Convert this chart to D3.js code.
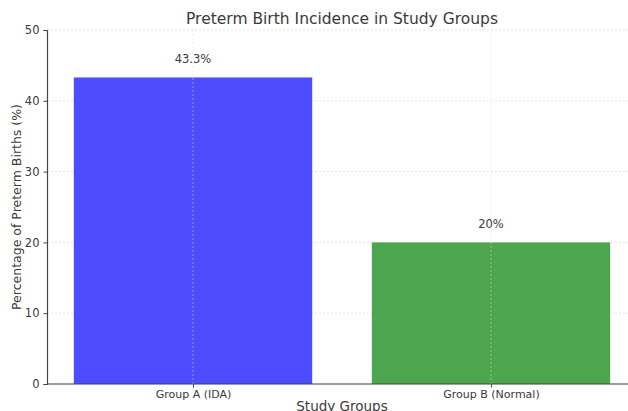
<!DOCTYPE html>
<html>
<head>
<meta charset="utf-8">
<script src="https://cdn.jsdelivr.net/npm/d3@7"></script>
<style>
body { margin: 0; background: #fff; }
text { font-family: "DejaVu Sans", sans-serif; fill: #3a3a3a; }
</style>
</head>
<body>
<svg id="chart" width="628" height="411"></svg>
<script>
// data
var groups = ["Group A (IDA)", "Group B (Normal)"];
var rates = [43.3, 20];
var labels = ["43.3%", "20%"];
var colors = ["#4d4dff", "#4da64d"];
var yTicks = [0, 10, 20, 30, 40, 50];

var svg = d3.select("#chart");
var pLeft = 47, pRight = 637, pTop = 30, pBottom = 384;

// matplotlib-like x: bars at 0 and 1, width 0.8, xlim -0.49..1.49
var x = d3.scaleLinear().domain([-0.49, 1.49]).range([pLeft, pRight]);
var y = d3.scaleLinear().domain([0, 50]).range([pBottom, pTop]);

// grid
svg.append("g").selectAll("line.hg").data(yTicks).enter()
	.append("line")
	.attr("x1", pLeft).attr("x2", pRight)
	.attr("y1", d => y(d)).attr("y2", d => y(d))
	.style("stroke", "#ddd").style("stroke-width", 0.8)
	.style("stroke-dasharray", "2,2");

// bars
svg.append("g").selectAll("rect").data(rates).enter()
	.append("rect")
	.attr("x", (d, i) => x(i - 0.4))
	.attr("width", (d, i) => x(i + 0.4) - x(i - 0.4))
	.attr("y", d => y(d))
	.attr("height", d => pBottom - y(d))
	.style("fill", (d, i) => colors[i]);

// vertical grid, drawn over the bars
svg.append("g").selectAll("line.vg").data(groups).enter()
	.append("line")
	.attr("x1", (d, i) => x(i)).attr("x2", (d, i) => x(i))
	.attr("y1", pTop).attr("y2", pBottom)
	.style("stroke", "#ddd").style("stroke-width", 0.8).style("opacity", 0.6)
	.style("stroke-dasharray", "2,2");

// value labels
svg.append("g").selectAll("text").data(labels).enter()
	.append("text")
	.attr("x", (d, i) => x(i))
	.attr("y", (d, i) => y(rates[i]) - 14)
	.attr("text-anchor", "middle")
	.style("font-size", "11.5px")
	.text(d => d);

// axes
var yAxis = d3.axisLeft(y).tickValues(yTicks).tickSize(3.5).tickPadding(4);
var gy = svg.append("g").attr("transform", "translate(" + pLeft + ",0)").call(yAxis);
gy.select(".domain").style("stroke", "#444").style("stroke-width", 1.2);
gy.selectAll(".tick line").style("stroke", "#444");
gy.selectAll("text").style("font-size", "11.5px").style("font-family", "DejaVu Sans").style("fill", "#3a3a3a");

var xAxis = d3.axisBottom(x).tickValues([0, 1]).tickFormat((d, i) => groups[i]).tickSize(3.5).tickPadding(3);
var gx = svg.append("g").attr("transform", "translate(0," + pBottom + ")").call(xAxis);
gx.select(".domain").style("stroke", "#444").style("stroke-width", 1.2).attr("d", "M" + pLeft + ",0H" + pRight);
gx.selectAll(".tick line").style("stroke", "#444");
gx.selectAll("text").style("font-size", "11px").style("font-family", "DejaVu Sans").style("fill", "#3a3a3a");

// titles
svg.append("text")
	.attr("x", (pLeft + pRight) / 2).attr("y", 24)
	.attr("text-anchor", "middle")
	.style("font-size", "15.5px")
	.text("Preterm Birth Incidence in Study Groups");

svg.append("text")
	.attr("x", (pLeft + pRight) / 2).attr("y", 411)
	.attr("text-anchor", "middle")
	.style("font-size", "13.5px")
	.text("Study Groups");

svg.append("text")
	.attr("transform", "translate(21," + ((pTop + pBottom) / 2) + ") rotate(-90)")
	.attr("text-anchor", "middle")
	.style("font-size", "12.5px")
	.text("Percentage of Preterm Births (%)");
</script>
</body>
</html>
